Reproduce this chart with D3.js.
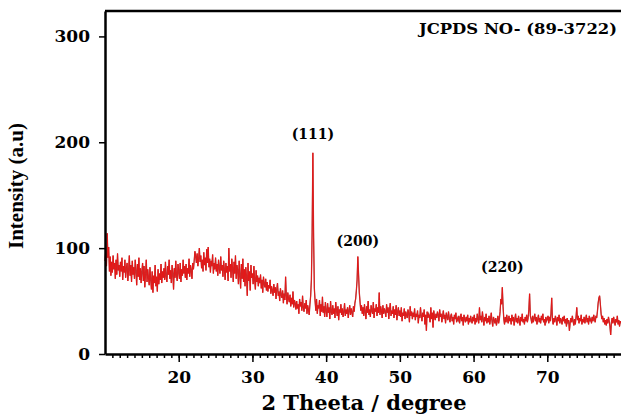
<!DOCTYPE html>
<html>
<head>
<meta charset="utf-8">
<script src="https://cdn.jsdelivr.net/npm/d3@7"></script>
<style>
  body { margin: 0; background: #fff; }
  .tick text { font-family: "DejaVu Serif", serif; font-weight: bold; font-size: 17px; fill: #000; }
  .label { font-family: "DejaVu Serif", serif; font-weight: bold; fill: #000; }
</style>
</head>
<body>
<div id="wrapper"></div>
<script>
// scan settings
const thetaStart = 10
const thetaStep = 0.1

// intensity, 0.1 degree apart
const int10 = [
  88, 97, 83, 114, 91, 101, 78, 92, 74, 87,
  77, 93, 80, 86, 71, 89, 75, 95, 79, 84,
  73, 87, 78, 91, 70, 83, 77, 89, 72, 81,
  86, 69, 79, 93, 74, 84, 68, 88, 75, 82,
  71, 89, 78, 65, 85, 73, 91, 70, 81, 67,
  78, 86, 69, 83, 63, 76, 89, 68, 80, 72,
  65, 82, 70, 61, 78, 58, 74, 67, 84, 64,
  73, 59, 80, 66, 76, 70, 85, 67, 78, 72,
  81, 70, 87, 73, 68, 83, 75, 89, 71, 79,
  67, 84, 76, 61, 81, 72, 88, 74, 69, 85,
]
const int20 = [
  78, 71, 86, 68, 80, 74, 89, 76, 83, 72,
  85, 70, 81, 76, 90, 73, 84, 79, 71, 86,
  80, 88, 97, 92, 86, 95, 83, 90, 100, 87,
  93, 81, 89, 78, 96, 84, 91, 79, 99, 86,
  101, 82, 90, 77, 88, 83, 94, 76, 86, 80,
  91, 78, 85, 74, 89, 81, 76, 92, 79, 84,
  73, 88, 80, 70, 86, 77, 83, 69, 100, 78,
  85, 72, 90, 81, 68, 87, 76, 93, 71, 84,
  79, 66, 88, 74, 62, 85, 71, 90, 68, 80,
  64, 82, 73, 55, 86, 69, 78, 60, 84, 72,
]
const int30 = [
  76, 66, 83, 70, 61, 79, 68, 74, 64, 72,
  67, 75, 62, 70, 58, 73, 66, 63, 71, 60,
  68, 59, 65, 62, 70, 57, 64, 60, 55, 66,
  58, 63, 52, 61, 67, 55, 59, 50, 62, 56,
  53, 60, 48, 57, 51, 73, 55, 47, 58, 52,
  49, 56, 45, 53, 47, 59, 44, 51, 48, 42,
  50, 43, 47, 38, 52, 45, 49, 41, 55, 44,
  40, 48, 43, 51, 38, 46, 42, 37, 47, 55,
  70, 115, 190, 110, 62, 50, 41, 52, 38, 46,
  43, 51, 36, 47, 40, 54, 39, 45, 35, 49,
]
const int40 = [
  41, 35, 48, 39, 44, 33, 50, 40, 37, 46,
  38, 43, 34, 49, 41, 36, 45, 32, 42, 39,
  47, 37, 43, 35, 40, 48, 36, 42, 38, 44,
  34, 41, 46, 37, 43, 39, 35, 45, 40, 48,
  52, 60, 70, 92, 75, 58, 49, 41, 46, 38,
  44, 36, 47, 40, 33, 45, 39, 50, 37, 42,
  35, 46, 41, 38, 49, 34, 43, 40, 47, 36,
  44, 39, 58, 37, 45, 41, 34, 46, 38, 43,
  40, 35, 47, 39, 44, 33, 42, 48, 36, 41,
  38, 45, 34, 42, 37, 46, 32, 40, 44, 36,
]
const int50 = [
  41, 35, 44, 31, 39, 36, 43, 33, 40, 37,
  34, 42, 38, 30, 45, 36, 40, 33, 39, 35,
  43, 32, 38, 35, 41, 29, 37, 34, 44, 36,
  31, 39, 35, 42, 28, 37, 22, 40, 34, 38,
  36, 30, 44, 33, 39, 25, 41, 35, 32, 38,
  34, 40, 37, 31, 42, 35, 38, 30, 36, 41,
  33, 37, 29, 39, 35, 32, 40, 34, 30, 36,
  38, 31, 35, 28, 37, 33, 39, 30, 34, 32,
  36, 29, 34, 38, 31, 35, 27, 37, 33, 30,
  35, 31, 37, 28, 34, 30, 36, 32, 29, 35,
]
const int60 = [
  31, 37, 28, 34, 30, 38, 33, 29, 44, 32,
  36, 30, 40, 33, 27, 35, 31, 38, 29, 34,
  30, 36, 28, 33, 39, 31, 26, 35, 32, 29,
  34, 27, 31, 36, 29, 33, 40, 52, 47, 63,
  45, 33, 28, 35, 30, 37, 32, 29, 36, 31,
  34, 28, 37, 31, 35, 27, 33, 38, 30, 34,
  29, 36, 32, 27, 35, 31, 38, 30, 33, 28,
  35, 31, 37, 30, 34, 42, 57, 36, 33, 29,
  36, 30, 34, 38, 31, 35, 28, 33, 37, 30,
  34, 29, 36, 32, 38, 30, 33, 27, 35, 31,
]
const int70 = [
  33, 36, 29, 35, 31, 38, 53, 32, 28, 34,
  30, 36, 33, 27, 35, 31, 37, 29, 34, 32,
  28, 35, 31, 36, 29, 33, 26, 34, 30, 32,
  22, 29, 34, 30, 36, 31, 27, 33, 28, 35,
  44, 32, 36, 29, 34, 31, 37, 28, 33, 30,
  35, 29, 33, 37, 30, 34, 28, 36, 31, 33,
  29, 35, 31, 37, 33, 30, 36, 34, 40, 48,
  53, 55, 47, 38, 33, 36, 30, 34, 28, 32,
  27, 33, 29, 35, 31, 26, 18, 30, 34, 29,
  35, 31, 27, 33, 30, 36, 28, 32, 26, 31,
  29,
]

// tick labels and peak labels
const xTickValues = [20, 30, 40, 50, 60, 70]
const yTickValues = [0, 100, 200, 300]
const peaks = [
  { label: "(111)", theta: 38.2, y: 203 },
  { label: "(200)", theta: 44.3, y: 102 },
  { label: "(220)", theta: 63.9, y: 77 },
]

function drawChart() {
  const intensity = [].concat(int10, int20, int30, int40, int50, int60, int70)
  const dataset = intensity.map((v, i) => ({ theta: thetaStart + i * thetaStep, value: v }))

  const xAccessor = d => d.theta
  const yAccessor = d => d.value

  let dimensions = {
    width: 621,
    height: 416,
    margin: { top: 11, right: 0, bottom: 62, left: 105 },
  }
  dimensions.boundedWidth = dimensions.width - dimensions.margin.left - dimensions.margin.right
  dimensions.boundedHeight = dimensions.height - dimensions.margin.top - dimensions.margin.bottom

  const wrapper = d3.select("#wrapper")
    .append("svg")
      .attr("width", dimensions.width)
      .attr("height", dimensions.height)

  const bounds = wrapper.append("g")
      .attr("transform", `translate(${dimensions.margin.left},${dimensions.margin.top})`)

  // scales
  const xScale = d3.scaleLinear()
    .domain([10, 80])
    .range([0, dimensions.boundedWidth])

  const yScale = d3.scaleLinear()
    .domain([0, 324])
    .range([dimensions.boundedHeight, 0])

  // pattern
  const lineGenerator = d3.line()
    .x(d => xScale(xAccessor(d)))
    .y(d => yScale(yAccessor(d)))

  bounds.append("path")
      .attr("d", lineGenerator(dataset))
      .attr("fill", "none")
      .attr("stroke", "#a84848")
      .attr("stroke-width", 1.3)

  bounds.append("path")
      .attr("d", lineGenerator(dataset))
      .attr("fill", "none")
      .attr("stroke", "#ee1010")
      .attr("stroke-width", 0.8)

  // axes
  const xMinor = bounds.append("g")
      .attr("transform", `translate(0,${dimensions.boundedHeight})`)
    .call(d3.axisBottom(xScale).tickValues(d3.range(11, 80, 1)).tickSize(4).tickFormat(""))
  xMinor.select(".domain").remove()
  xMinor.selectAll("line").attr("stroke-width", 1.5)

  const xAxis = bounds.append("g")
      .attr("transform", `translate(0,${dimensions.boundedHeight})`)
    .call(d3.axisBottom(xScale).tickValues(xTickValues).tickSize(8).tickPadding(9).tickSizeOuter(0))
  xAxis.select(".domain").attr("stroke-width", 2.5)
  xAxis.selectAll("line").attr("stroke-width", 1.5)

  const yAxis = bounds.append("g")
    .call(d3.axisLeft(yScale).tickValues(yTickValues).tickSize(6).tickPadding(9).tickSizeOuter(0))
  yAxis.select(".domain").attr("stroke-width", 2.5)
  yAxis.selectAll("line").attr("stroke-width", 1.5)

  // top frame
  bounds.append("line")
      .attr("x1", 0)
      .attr("x2", dimensions.boundedWidth)
      .attr("y1", 0)
      .attr("y2", 0)
      .attr("stroke", "#000")
      .attr("stroke-width", 2.5)

  // peak labels
  bounds.selectAll(".peak")
    .data(peaks)
    .join("text")
      .attr("class", "label peak")
      .attr("x", d => xScale(d.theta))
      .attr("y", d => yScale(d.y))
      .attr("text-anchor", "middle")
      .style("font-size", "14px")
      .text(d => d.label)

  bounds.append("text")
      .attr("class", "label")
      .attr("x", dimensions.boundedWidth - 4)
      .attr("y", 23)
      .attr("text-anchor", "end")
      .attr("textLength", 198)
      .attr("lengthAdjust", "spacingAndGlyphs")
      .style("font-size", "14px")
      .text("JCPDS NO- (89-3722)")

  // axis titles
  wrapper.append("text")
      .attr("class", "label")
      .attr("x", 364)
      .attr("y", 410)
      .attr("text-anchor", "middle")
      .attr("textLength", 205)
      .attr("lengthAdjust", "spacingAndGlyphs")
      .style("font-size", "20px")
      .text("2 Theeta / degree")

  wrapper.append("text")
      .attr("class", "label")
      .attr("transform", "translate(23,186) rotate(-90)")
      .attr("text-anchor", "middle")
      .style("font-family", "'Liberation Serif', serif")
      .style("font-size", "21px")
      .text("Intensity (a.u)")
}
drawChart()
</script>
</body>
</html>
